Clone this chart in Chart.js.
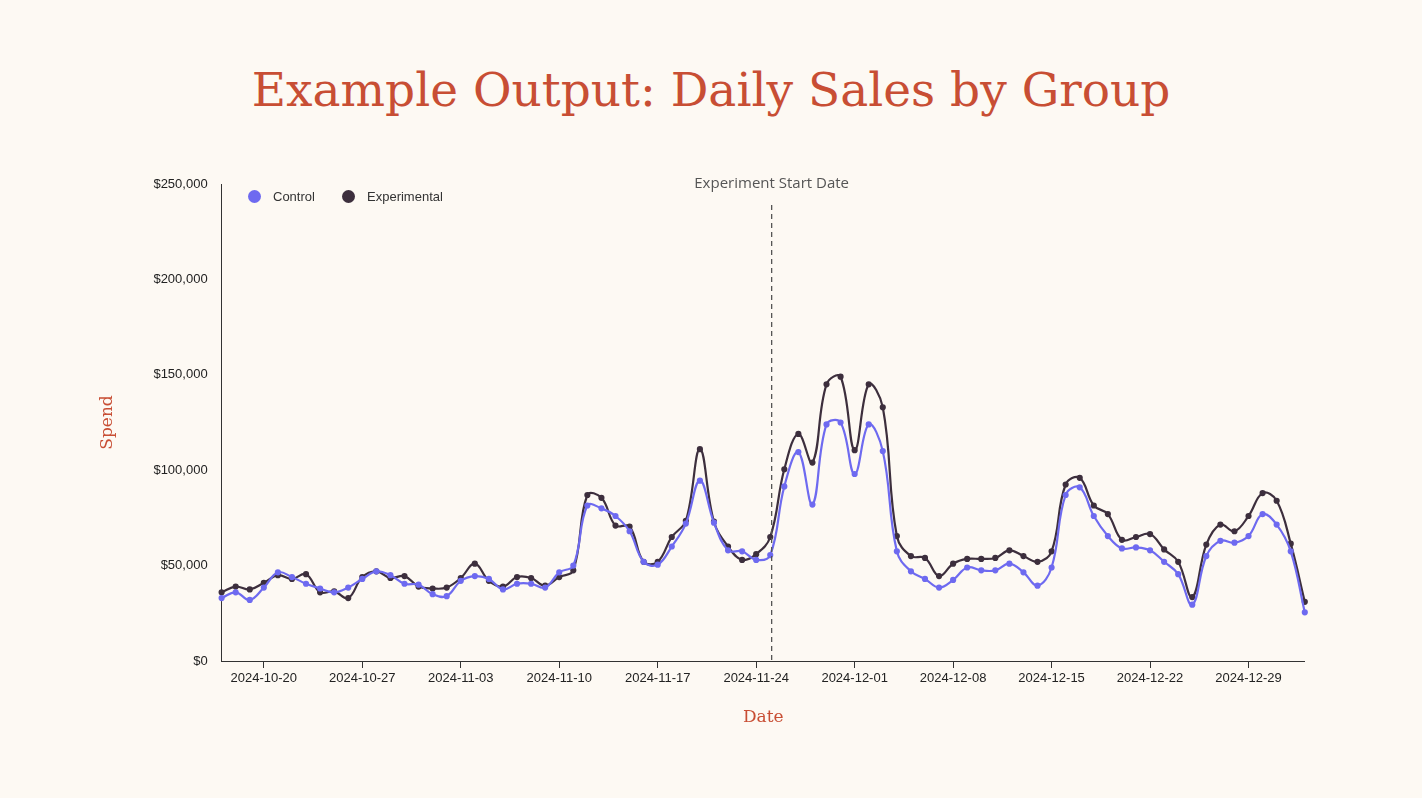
<!DOCTYPE html>
<html><head><meta charset="utf-8">
<script src="https://cdn.jsdelivr.net/npm/chart.js@4"></script>
<style>
body{margin:0;background:#fdf9f3;width:1422px;height:798px;overflow:hidden;position:relative;font-family:"Liberation Sans",Arial,sans-serif}
h1{position:absolute;top:62px;left:0;width:1422px;text-align:center;margin:0;font:400 47px "DejaVu Serif",serif;color:#c84e34}
#wrap{position:absolute;left:93px;top:160px;width:1218px;height:572px}
.lg{position:absolute;top:189px;font-size:13px;color:#333;display:flex;align-items:center}
.dot{width:13px;height:13px;border-radius:50%;display:inline-block;margin-right:12px}
</style></head><body>
<h1>Example Output: Daily Sales by Group</h1>
<div id="wrap"><canvas id="c"></canvas></div>
<div class="lg" style="left:248px"><span class="dot" style="background:#6e6af0"></span>Control</div>
<div class="lg" style="left:342px"><span class="dot" style="background:#3d2f3d"></span>Experimental</div>
<script>
const control = [33,36,32,38.5,46.5,44,40.5,38,36,38.5,43,47,45,40.5,40,35,34,42,44.5,43,37.5,40.5,40.5,38.5,46.5,50,
  81.5,80,76,68,52,50.5,60,72,94.5,72.5,58,57.5,53,55.5,91.5,109.5,82,124,125,98,124,110,57.5,47,43,
  38.5,42.5,49,47.5,47.5,51,46.5,39.5,49,87,91,76,65.5,59,59.5,58,52,45.5,29.5,55,63,62,65.5,77,71.5,57.5,25.5];
const experimental = [36,39,37.5,41,45,43,45.5,36,36.5,33,44,47,43.5,44.5,39,38,38.5,43.5,51,42,39,44,43.5,39.5,44,47.5,
  87,85.5,71,70.5,52,52,65,73.5,111,73,60,53,56,65,100.5,119,104,145,149,110.5,145,133,65.5,55,54,
  44.5,51,53.5,53.5,54,58,55,52,57.5,92.5,96,81.5,77,63.5,65,66.5,58.5,52,33.5,61,71.5,68,76,88,84,61.5,31];
const startDate = new Date(Date.UTC(2024, 9, 17));
const dates = control.map((_, i) => new Date(startDate.getTime() + i * 864e5).toISOString().slice(0, 10));
const experimentStart = 39.1;

const vline = {
  id: 'vline',
  afterDatasetsDraw(chart) {
    const {ctx, chartArea, scales} = chart;
    const x = scales.x.getPixelForValue(experimentStart);
    ctx.save();
    ctx.strokeStyle = '#555'; ctx.lineWidth = 1.3; ctx.setLineDash([5, 4]);
    ctx.beginPath(); ctx.moveTo(x, chartArea.top + 21); ctx.lineTo(x, chartArea.bottom); ctx.stroke();
    ctx.setLineDash([]);
    ctx.fillStyle = '#555'; ctx.font = '15px "Open Sans", sans-serif'; ctx.textAlign = 'center';
    ctx.fillText('Experiment Start Date', x, chartArea.top + 4);
    ctx.restore();
  }
};

new Chart(document.getElementById('c'), {
  type: 'line',
  data: {
    labels: dates,
    datasets: [
      {label: 'Control', data: control.map(v => v * 1000), borderColor: '#6e6af0', backgroundColor: '#6e6af0', borderWidth: 2.2, pointRadius: 2, tension: 0.4},
      {label: 'Experimental', data: experimental.map(v => v * 1000), borderColor: '#3d2f3d', backgroundColor: '#3d2f3d', borderWidth: 2.2, pointRadius: 2, tension: 0.4}
    ]
  },
  options: {
    responsive: true, maintainAspectRatio: false, animation: false,
    layout: {padding: {top: 24}},
    plugins: {legend: {display: false}, tooltip: {enabled: false}},
    scales: {
      x: {
        offset: false,
        grid: {display: true, drawOnChartArea: false, color: '#333', tickLength: 7},
        border: {color: '#333'},
        ticks: {autoSkip: false, maxRotation: 0, color: '#222', font: {size: 13},
          callback(v) { return new Date(dates[v]).getUTCDay() === 0 ? dates[v] : null; }},
        title: {display: true, text: 'Date', color: '#c84e34', font: {family: 'DejaVu Serif', size: 17}, padding: {top: 18}}
      },
      y: {
        min: 0, max: 250000,
        grid: {display: false},
        border: {color: '#333'},
        ticks: {stepSize: 50000, color: '#222', font: {size: 13}, padding: 6,
          callback: v => '$' + v.toLocaleString('en-US')},
        title: {display: true, text: 'Spend', color: '#c84e34', font: {family: 'DejaVu Serif', size: 17}, padding: {bottom: 30}}
      }
    }
  },
  plugins: [vline]
});
</script></body></html>
